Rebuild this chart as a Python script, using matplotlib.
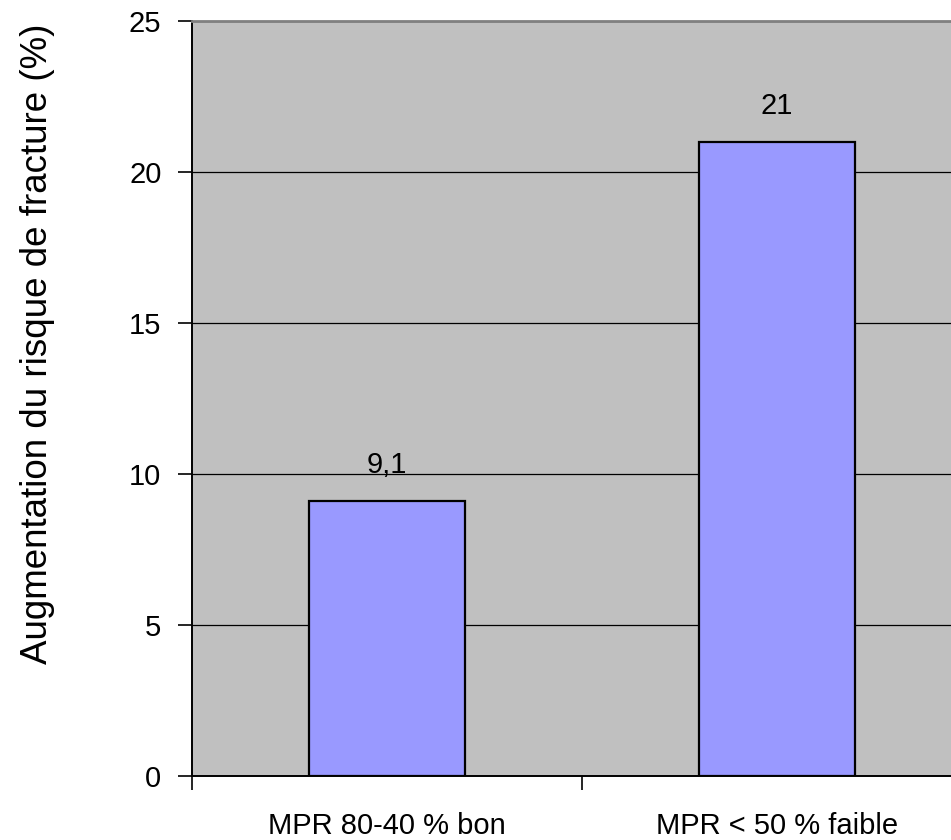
import matplotlib
matplotlib.use("Agg")
import matplotlib.pyplot as plt

plt.rcParams["font.family"] = ["Liberation Sans", "DejaVu Sans"]

categories = ["MPR 80-40 % bon", "MPR < 50 % faible"]
values = [9.1, 21]
value_labels = ["9,1", "21"]
y_ticks = [0, 5, 10, 15, 20, 25]

BAR_COLOR = "#9999FF"
PLOT_BG = "#C0C0C0"

fig = plt.figure(figsize=(9.51, 8.4), dpi=100)
# plot area runs past the right edge of the figure on purpose
ax = fig.add_axes([192 / 951, 64 / 840, 780 / 951, 755 / 840])
ax.set_facecolor(PLOT_BG)

x = list(range(len(categories)))
ax.bar(x, values, width=0.4, color=BAR_COLOR, edgecolor="black", linewidth=1.6, zorder=3)

for xi, v, lab in zip(x, values, value_labels):
    ax.annotate(lab, (xi, v), xytext=(0, 20), textcoords="offset points",
                ha="center", va="baseline", fontsize=21)

ax.set_xlim(-0.5, len(categories) - 0.5)
ax.set_ylim(0, 25)
ax.set_yticks(y_ticks)
ax.set_yticklabels([str(t) for t in y_ticks])
ax.yaxis.grid(True, color="black", linewidth=0.9, zorder=1)
ax.set_axisbelow(True)

# category boundaries get the tick marks, names sit between them
ax.set_xticks([i - 0.5 for i in range(len(categories) + 1)])
ax.set_xticklabels([])
ax.set_xticks(x, minor=True)
ax.set_xticklabels(categories, minor=True, fontsize=21)
ax.tick_params(axis="x", which="major", direction="out", length=10, width=1.2)
ax.tick_params(axis="x", which="minor", length=0, pad=26)
ax.tick_params(axis="y", direction="out", length=10, width=1.2, labelsize=21, pad=12)

ax.spines["right"].set_visible(False)
ax.spines["top"].set_color("#808080")
ax.spines["top"].set_linewidth(2)
ax.spines["left"].set_linewidth(1.4)
ax.spines["bottom"].set_linewidth(1.4)

ax.set_ylabel("Augmentation du risque de fracture (%)", fontsize=26.5)
ax.yaxis.set_label_coords(-137 / 780, 0.573)

fig.savefig("out.png", dpi=100)
